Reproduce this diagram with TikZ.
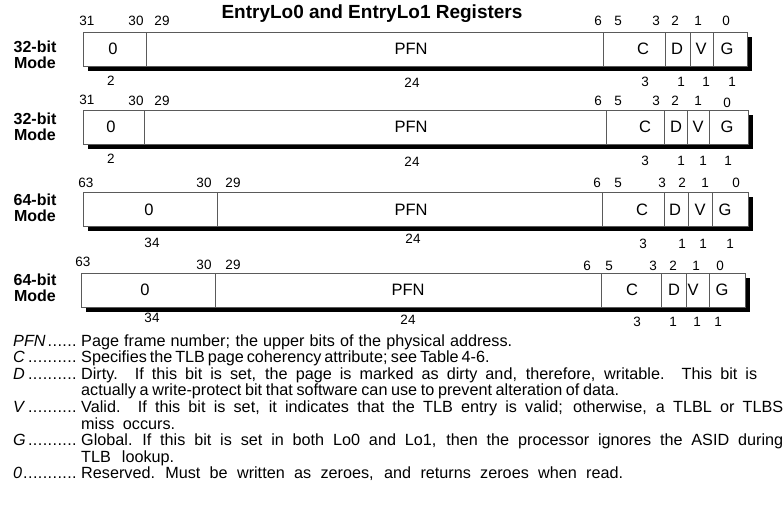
\documentclass[tikz,border=0pt]{standalone}
\usepackage{fontspec}
\setmainfont{Liberation Sans}
\usetikzlibrary{positioning}
\definecolor{RegLine}{RGB}{90, 90, 90}
\newcommand{\legdots}{\leaders\hbox to 4.9pt{\hss.\hss}\hfill}
\newcommand{\LegLine}[2]{\makebox[#1][s]{\spaceskip=0.28em plus 1fil minus 0.1em
  \xspaceskip=0.34em plus 1fil minus 0.1em\relax #2}}
% top, left, right, then the five field dividers
\newcommand{\RegRow}[8]{%
  \fill[black] (#2+5,#1+5) rectangle (#3+5,#1+39);
  \draw[regline, fill=white] (#2,#1) rectangle (#3,#1+34);
  \foreach \d in {#4,#5,#6,#7,#8}
    \draw[regline] (\d,#1) -- (\d,#1+34);
}

\begin{document}
\begin{tikzpicture}[x=1pt, y=-1pt,
    regline/.style={RegLine, line width=0.9pt},
    bitnum/.style={font=\fontsize{13.5}{14}\selectfont, inner sep=0pt},
    fieldname/.style={font=\fontsize{16.5}{17}\selectfont, inner sep=0pt},
    modelabel/.style={font=\bfseries\fontsize{16}{16}\selectfont, align=center, inner sep=0pt},
    legkey/.style={font=\fontsize{16.2}{16.6}\selectfont, anchor=base west, inner sep=0pt},
    legtext/.style={font=\fontsize{16.2}{16.6}\selectfont, anchor=base west, inner sep=0pt,
                    text width=703pt, align=left}]
        \useasboundingbox (0,0) rectangle (784,506);
        \node[font=\bfseries\fontsize{19}{19}\selectfont, inner sep=0pt] (title) at (372,14)
             {EntryLo0 and EntryLo1 Registers};

        % 32-bit mode, first row
        \RegRow{32}{83}{747}{146}{603}{665}{690}{713}
        \node[modelabel] (mode1) at (35,55) {32-bit\\Mode};
        \foreach \x/\y/\t in {87/21/31, 136/21/30, 162/21/29, 598/21/6, 618/21/5,
                              656/21/3, 675/21/2, 698/21/1, 726/21/0}
          \node[bitnum] (r1t\t) at (\x,\y) {\t};
        \foreach \x/\t in {113/0, 411/PFN, 643/C, 677/D, 701/V, 727/G}
          \node[fieldname] (r1f\t) at (\x,49) {\t};
        \foreach \x/\y/\t in {111/81/2, 412/83/24, 645/82/3, 681/82/1, 706/82/1, 732/82/1}
          \node[bitnum] (r1b\x) at (\x,\y) {\t};

        % 32-bit mode, second row
        \RegRow{110}{83}{748}{144}{606}{664}{687}{709}
        \node[modelabel] (mode2) at (35,127) {32-bit\\Mode};
        \foreach \x/\y/\t in {87/100/31, 136/101/30, 162/101/29, 598/101/6, 618/101/5,
                              656/101/3, 675/101/2, 698/101/1, 727/103/0}
          \node[bitnum] (r2t\t) at (\x,\y) {\t};
        \foreach \x/\t in {111/0, 411/PFN, 645/C, 676/D, 698/V, 727/G}
          \node[fieldname] (r2f\t) at (\x,127) {\t};
        \foreach \x/\y/\t in {111/159/2, 412/162/24, 645/161/3, 681/161/1, 703/161/1, 728/161/1}
          \node[bitnum] (r2b\x) at (\x,\y) {\t};

        % 64-bit mode, first row
        \RegRow{192}{83}{748}{217}{602}{664}{688}{712}
        \node[modelabel] (mode3) at (35,208) {64-bit\\Mode};
        \foreach \x/\y/\t in {86/183/63, 204/183/30, 233/183/29, 597/183/6, 618/183/5,
                              662/183/3, 682/183/2, 705/183/1, 736/183/0}
          \node[bitnum] (r3t\t) at (\x,\y) {\t};
        \foreach \x/\t in {149/0, 411/PFN, 642/C, 675/D, 700/V, 725/G}
          \node[fieldname] (r3f\t) at (\x,210) {\t};
        \foreach \x/\y/\t in {152/243/34, 413/239/24, 643/244/3, 682/244/1, 703/244/1, 730/244/1}
          \node[bitnum] (r3b\x) at (\x,\y) {\t};

        % 64-bit mode, second row
        \RegRow{273}{81}{745}{215}{601}{661}{686}{709}
        \node[modelabel] (mode4) at (35,288) {64-bit\\Mode};
        \foreach \x/\y/\t in {83/262/63, 204/265/30, 233/265/29, 587/266/6, 609/266/5,
                              653/266/3, 673/266/2, 696/266/1, 720/266/0}
          \node[bitnum] (r4t\t) at (\x,\y) {\t};
        \foreach \x/\t in {145/0, 408/PFN, 632/C, 674/D, 693/V, 722/G}
          \node[fieldname] (r4f\t) at (\x,290) {\t};
        \foreach \x/\y/\t in {152/318/34, 408/320/24, 637/322/3, 673/322/1, 697/322/1, 718/322/1}
          \node[bitnum] (r4b\x) at (\x,\y) {\t};

        % field legend
        \foreach \k/\y in {PFN/346, C/362.6, D/379, V/412.4, G/445.6, 0/478.8}
          \node[legkey] (key\k) at (13,\y) {\makebox[67pt][l]{\textit{\k}\legdots}};
        \node[legtext] (txtPFN) at (81,346)
             {\LegLine{431pt}{Page frame number; the upper bits of the physical address.}};
        \node[legtext] (txtC) at (81,362.6)
             {\LegLine{399pt}{Specifies the TLB page coherency attribute; see Table 4-6.}};
        \node[legtext] (txtD) at (81,379)
             {\LegLine{676pt}{Dirty.~ If this bit is set, the page is marked as dirty and, therefore, writable.~ This bit is}\\
              \LegLine{538pt}{actually a write-protect bit that software can use to prevent alteration of data.}};
        \node[legtext] (txtV) at (81,412.4)
             {\LegLine{702pt}{Valid.~ If this bit is set, it indicates that the TLB entry is valid; otherwise, a TLBL or TLBS}\\
              \LegLine{94pt}{miss occurs.}};
        \node[legtext] (txtG) at (81,445.6)
             {\LegLine{702pt}{Global. If this bit is set in both Lo0 and Lo1, then the processor ignores the ASID during}\\
              \LegLine{93pt}{TLB lookup.}};
        \node[legtext] (txt0) at (81,478.8)
             {\LegLine{542pt}{Reserved. Must be written as zeroes, and returns zeroes when read.}};
      \end{tikzpicture}
\end{document}
